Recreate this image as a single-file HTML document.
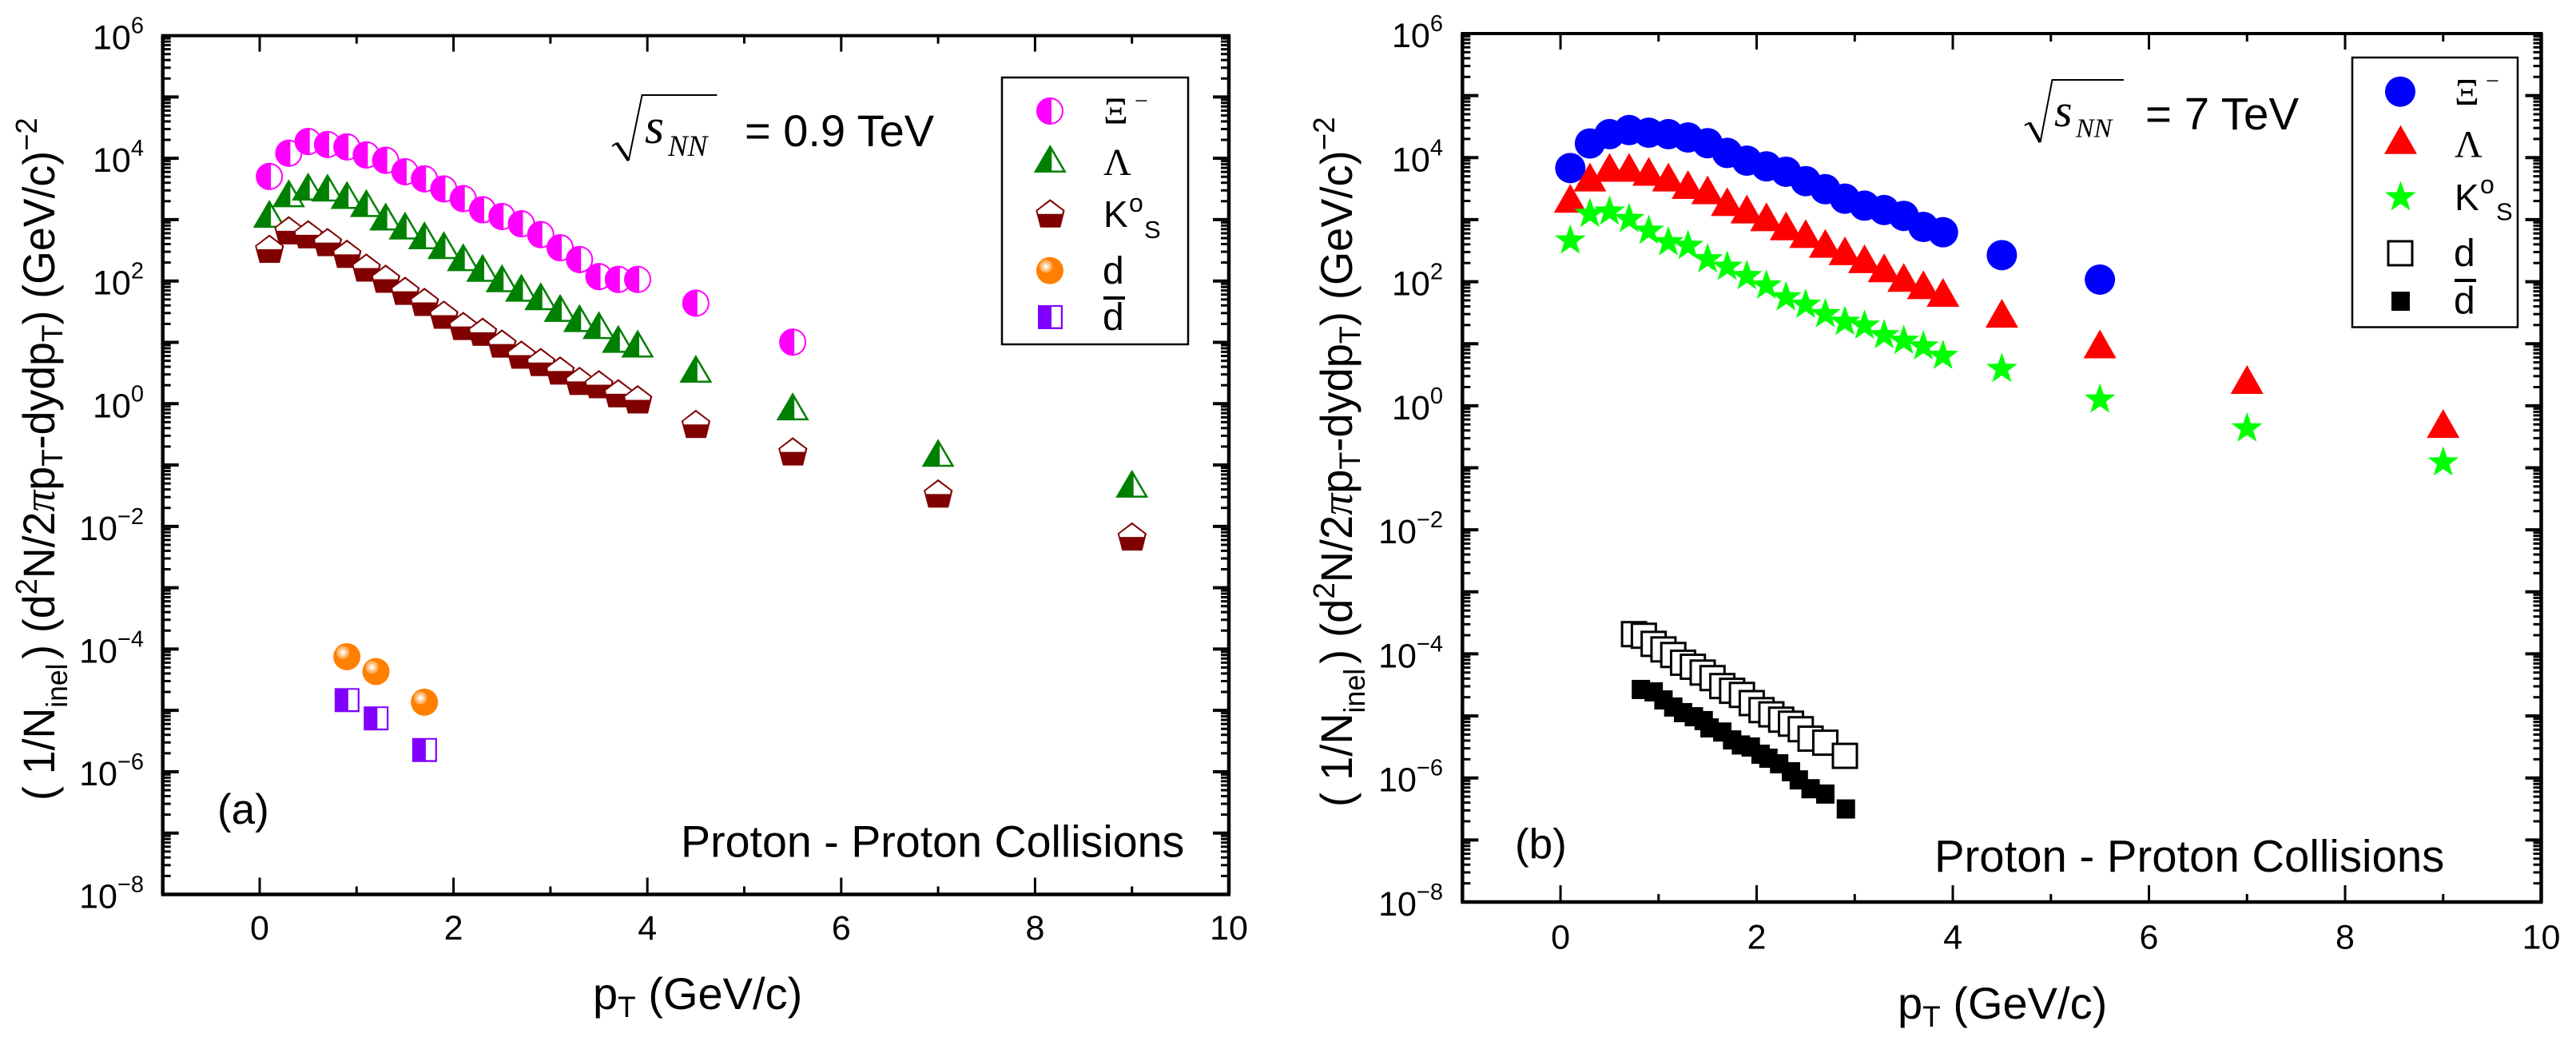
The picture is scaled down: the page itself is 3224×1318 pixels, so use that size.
<!DOCTYPE html>
<html>
<head>
<meta charset="utf-8">
<title>Transverse momentum spectra in proton-proton collisions</title>
<style>
html,body{margin:0;padding:0;background:#fff;width:3224px;height:1318px;overflow:hidden}
svg{display:block}
text{font-family:"Liberation Sans",sans-serif;fill:#000}
.serif{font-family:"Liberation Serif",serif}
.ital{font-family:"Liberation Serif",serif;font-style:italic}
</style>
</head>
<body>
<svg id="figure" xmlns="http://www.w3.org/2000/svg" width="3224" height="1318" viewBox="0 0 3224 1318">
  <rect width="3224" height="1318" fill="#fff"/>
  <g id="panel-a">
    <g id="a-marks"></g>
    <g id="a-axes"></g>
    <text transform="translate(68,1002) rotate(-90) scale(0.958,1)" font-size="56">( 1/N<tspan dy="16" font-size="37">inel</tspan><tspan dy="-16" dx="6">) (d</tspan><tspan dy="-22" font-size="38">2</tspan><tspan dy="22">N/2</tspan><tspan class="ital">π</tspan>p<tspan dy="10" font-size="37">T</tspan><tspan dy="-10">-dydp</tspan><tspan dy="10" font-size="37">T</tspan><tspan dy="-10">) (GeV/c)</tspan><tspan dy="-22" font-size="38">−2</tspan></text>
    <text x="742" y="1263" font-size="56">p<tspan dy="10" font-size="37">T</tspan><tspan dy="-10"> (GeV/c)</tspan></text>
    <text x="272" y="1031" font-size="53">(a)</text>
    <text x="852" y="1072.5" font-size="55.6">Proton - Proton Collisions</text>
    <g>
      <path d="M766,183 L772,179" fill="none" stroke="#000" stroke-width="2"/>
      <path d="M772,179 L786.7,201" fill="none" stroke="#000" stroke-width="4"/>
      <path d="M786.7,201 L803.6,119 L897.4,119" fill="none" stroke="#000" stroke-width="2"/>
      <text x="807" y="179" font-size="62" class="ital">s</text>
      <text x="836" y="195" font-size="37" class="ital">NN</text>
      <text x="932" y="183" font-size="56">= 0.9 TeV</text>
    </g>
    <g>
      <rect x="1254" y="97" width="233" height="334" fill="#fff" stroke="#000" stroke-width="2.5"/>
      <g id="a-legend-marks"></g>
      <text x="1381" y="155" font-size="48" class="serif">Ξ</text>
      <text x="1420" y="136" font-size="30" class="serif">−</text>
      <text x="1381" y="219" font-size="48" class="serif">Λ</text>
      <text x="1381" y="284" font-size="46">K</text>
      <text x="1413" y="265" font-size="32">o</text>
      <text x="1432" y="298" font-size="31">S</text>
      <text x="1380" y="355" font-size="48">d</text>
      <text x="1380" y="413" font-size="48">d</text>
      <rect x="1381" y="371" width="27" height="4" fill="#000"/>
    </g>
  </g>
  <g id="panel-b">
    <g id="b-marks"></g>
    <g id="b-axes"></g>
    <text transform="translate(1692,1010) rotate(-90) scale(0.968,1)" font-size="56">( 1/N<tspan dy="16" font-size="37">inel</tspan><tspan dy="-16" dx="6">) (d</tspan><tspan dy="-22" font-size="38">2</tspan><tspan dy="22">N/2</tspan><tspan class="ital">π</tspan>p<tspan dy="10" font-size="37">T</tspan><tspan dy="-10">-dydp</tspan><tspan dy="10" font-size="37">T</tspan><tspan dy="-10">) (GeV/c)</tspan><tspan dy="-22" font-size="38">−2</tspan></text>
    <text x="2375" y="1274.8" font-size="56">p<tspan dy="10" font-size="37">T</tspan><tspan dy="-10"> (GeV/c)</tspan></text>
    <text x="1896" y="1074.6" font-size="53">(b)</text>
    <text x="2421" y="1091" font-size="56.3">Proton - Proton Collisions</text>
    <g>
      <path d="M2534,157 L2540,153.6" fill="none" stroke="#000" stroke-width="2"/>
      <path d="M2540,153.6 L2553.5,178" fill="none" stroke="#000" stroke-width="4"/>
      <path d="M2553.5,178 L2568.5,100 L2658,100" fill="none" stroke="#000" stroke-width="2"/>
      <text x="2571" y="158" font-size="58" class="ital">s</text>
      <text x="2598" y="171.7" font-size="34" class="ital">NN</text>
      <text x="2685" y="162" font-size="56.5">= 7 TeV</text>
    </g>
    <g>
      <rect x="2944" y="72" width="207" height="337.5" fill="#fff" stroke="#000" stroke-width="2.5"/>
      <g id="b-legend-marks"></g>
      <text x="3072" y="131.7" font-size="48" class="serif">Ξ</text>
      <text x="3111" y="111" font-size="30" class="serif">−</text>
      <text x="3072" y="196.7" font-size="48" class="serif">Λ</text>
      <text x="3072" y="263" font-size="46">K</text>
      <text x="3104" y="242" font-size="32">o</text>
      <text x="3124" y="275.7" font-size="31">S</text>
      <text x="3071" y="333" font-size="48">d</text>
      <text x="3071" y="392.7" font-size="48">d</text>
      <rect x="3072" y="349" width="27" height="4" fill="#000"/>
    </g>
  </g>
</svg>
<script>
// ---- shared pT bins ----
const ptBins = [0.1,0.3,0.5,0.7,0.9,1.1,1.3,1.5,1.7,1.9,2.1,2.3,2.5,2.7,2.9,3.1,3.3,3.5,3.7,3.9,4.5,5.5,7,9];
// ---- panel (a) values, sqrt(s)=0.9 TeV ----
const xiA = [5058,12100,18800,16800,15350,11350,9270,6040,4630,3170,2200,1450,1127,855,570,348,224,118,106,106,43.5,10.07];
const lambdaA = [1247,2692,3467,3336,2529,1866,1127,802,556,385,245,164,111,77.6,56.6,36.5,24.9,19.1,11.4,9.57,3.72,0.904,0.158,0.0497];
const kaonA = [336,672,578,432,278,166,109,69.3,45.7,28.3,18.5,14.9,9.57,6.31,4.78,3.48,2.36,2.08,1.48,1.18,0.469,0.167,0.0344,0.00685];
const deuteronPtA = [0.9,1.2,1.7];
const deuteronA = [7.5e-5,4.3e-5,1.36e-5];
const antiDeuteronA = [1.47e-5,7.4e-6,2.26e-6];
// ---- panel (b) values, sqrt(s)=7 TeV ----
const xiB = [6790,16900,23900,27800,25200,23900,21100,17100,11900,8930,7230,5920,4180,3100,2180,1680,1430,1150,764,627,268,108];
const lambdaB = [2208,4853,6966,6966,5998,4853,3681,3020,1950,1482,1112,794,596,415,315,234,167,117,89.4,67.1,31,9.93,2.65,0.516];
const kaonB = [488,1309,1426,1084,701,458,400,243,184,130,91.6,59.2,45,31.7,23.8,20.7,14.5,11.8,9.57,6.75,4.15,1.33,0.456,0.129];
const deuteronPtB = [0.75,0.85,0.95,1.05,1.15,1.25,1.35,1.45,1.55,1.65,1.75,1.85,1.95,2.05,2.15,2.25,2.35,2.45,2.55,2.7,2.9];
const deuteronB = [2.08e-4,1.96e-4,1.45e-4,1.18e-4,9.6e-5,7.2e-5,6.2e-5,5.0e-5,4.07e-5,3.03e-5,2.54e-5,2.18e-5,1.61e-5,1.24e-5,1.06e-5,8.7e-6,7.5e-6,6.1e-6,4.3e-6,3.7e-6,2.27e-6];
const antiDeuteronPtB = [0.82,0.95,1.05,1.15,1.25,1.36,1.46,1.52,1.65,1.75,1.84,1.94,2.04,2.12,2.23,2.35,2.43,2.55,2.7,2.91];
const antiDeuteronB = [2.67e-5,2.44e-5,1.81e-5,1.39e-5,1.13e-5,9.7e-6,8.4e-6,6.4e-6,5.5e-6,4.1e-6,3.4e-6,3.15e-6,2.41e-6,2.08e-6,1.69e-6,1.26e-6,9.3e-7,6.7e-7,5.5e-7,3.16e-7];
// ---- tick labels ----
const xMajorTicks = [0,2,4,6,8,10];
const xMinorTicks = [1,3,5,7,9];
const xTickLabels = ['0','2','4','6','8','10'];
const yDecades = [6,5,4,3,2,1,0,-1,-2,-3,-4,-5,-6,-7,-8];
const yLabelExponents = ['6','4','2','0','−2','−4','−6','−8'];

const NS = 'http://www.w3.org/2000/svg';
const starPts = (function(){
  const p = [];
  for (let i = 0; i < 10; i++) {
    const r = i % 2 ? 8.2 : 20.4;
    const a = -Math.PI / 2 + i * Math.PI / 5;
    p.push((r * Math.cos(a)).toFixed(2) + ',' + (r * Math.sin(a) + 1.95).toFixed(2));
  }
  return p.join(' ');
})();
const SHAPES = {
  halfCircle: '<circle r="16" fill="#fff" stroke="#ff00ff" stroke-width="2"/><path d="M2,-16.9 A17,17 0 1 0 2,16.9 Z" fill="#ff00ff"/>',
  halfTriangle: '<polygon points="0,-17.5 20.5,17.5 -20.5,17.5" fill="#008000"/><polygon points="2,-9.1 16.1,15 2,15" fill="#fff"/>',
  halfPentagon: '<polygon points="0,-17.7 18.3,-3.7 13,17.7 -12.3,17.7 -18,-3.7" fill="#800000"/><polygon points="0,-15 15.8,-3.2 15,0.7 -15,0.7 -15.8,-3.2" fill="#fff"/>',
  ball: '<circle r="17" fill="#ff8000"/><circle cx="-5" cy="-5.3" r="8" fill="#ffb060"/><circle cx="-5" cy="-5.3" r="5" fill="#ffd8b0"/><circle cx="-5" cy="-5.3" r="2" fill="#fff"/>',
  halfSquare: '<rect x="-15.3" y="-15" width="31" height="30" fill="#8000ff"/><rect x="1.7" y="-13" width="11.8" height="25.6" fill="#fff"/>',
  disc: '<circle r="19" fill="#0000ff"/>',
  triangle: '<polygon points="0,-18 20.5,18 -20.5,18" fill="#ff0000"/>',
  star: '<polygon points="' + starPts + '" fill="#00ff00"/>',
  openSquare: '<rect x="-15" y="-15" width="30" height="30" fill="#fff" stroke="#000" stroke-width="3"/>',
  solidSquare: '<rect x="-11.5" y="-12" width="23" height="24" fill="#000"/>'
};

function marker(parent, kind, cx, cy, name) {
  const g = document.createElementNS(NS, 'g');
  g.setAttribute('transform', 'translate(' + cx + ',' + cy + ')');
  
  
  g.innerHTML = SHAPES[kind];
  parent.appendChild(g);
}

function line(parent, x1, y1, x2, y2, w, name) {
  const l = document.createElementNS(NS, 'line');
  l.setAttribute('x1', x1);
  l.setAttribute('y1', y1);
  l.setAttribute('x2', x2);
  l.setAttribute('y2', y2);
  l.setAttribute('stroke', '#000');
  l.setAttribute('stroke-width', w);
  
  
  parent.appendChild(l);
}

function drawAxes(id, box, scaleX, scaleY, exX, labelBaseline) {
  const g = document.getElementById(id);
  const prefix = id.charAt(0);
  const L = box.left, R = box.right, T = box.top, B = box.bottom;
  line(g, L - 2, T, R + 2, T, 4, prefix + '-top-spine');
  line(g, L - 2, B, R + 2, B, 4.5, prefix + '-x-axis-line');
  line(g, L, T, L, B, 4.5, prefix + '-y-axis-line');
  line(g, R, T, R, B, 4.5, prefix + '-right-spine');
  xMajorTicks.forEach(function (v, i) {
    const x = scaleX(v);
    if (v < 10) {
      line(g, x, B, x, B - 21, 3, prefix + '-x-major-tick');
      line(g, x, T, x, T + 20, 3, prefix + '-x-major-tick-top');
    }
    const t = document.createElementNS(NS, 'text');
    t.setAttribute('x', x);
    t.setAttribute('y', labelBaseline);
    t.setAttribute('text-anchor', 'middle');
    t.setAttribute('font-size', '43');
    
    
    t.textContent = xTickLabels[i];
    g.appendChild(t);
  });
  xMinorTicks.forEach(function (v) {
    const x = scaleX(v);
    line(g, x, B, x, B - 10, 3, prefix + '-x-minor-tick');
    line(g, x, T, x, T + 10, 3, prefix + '-x-minor-tick-top');
  });
  yDecades.forEach(function (d) {
    const y = scaleY(Math.pow(10, d));
    if (d < 6 && d > -8) {
      line(g, L, y, L + 20, y, 4, prefix + '-y-major-tick');
      line(g, R, y, R - 20, y, 4, prefix + '-y-major-tick-right');
    }
    if (d > -8) {
      for (let k = 2; k < 10; k++) {
        const ym = scaleY(k * Math.pow(10, d - 1));
        line(g, L, ym, L + 10, ym, 3, prefix + '-y-minor-tick');
        line(g, R, ym, R - 10, ym, 3, prefix + '-y-minor-tick-right');
      }
    }
  });
  yLabelExponents.forEach(function (e) {
    const d = parseInt(e.replace('−', '-'), 10);
    const t = document.createElementNS(NS, 'text');
    t.setAttribute('x', exX);
    t.setAttribute('y', scaleY(Math.pow(10, d)) + 17);
    t.setAttribute('text-anchor', 'end');
    t.setAttribute('font-size', '43');
    
    
    t.textContent = '10';
    const s = document.createElementNS(NS, 'tspan');
    s.setAttribute('dy', '-20');
    s.setAttribute('font-size', '29');
    s.textContent = e;
    t.appendChild(s);
    g.appendChild(t);
  });
}

function makeScales(box) {
  return {
    x: function (v) { return box.left + (v + 1) * (box.right - box.left) / 11; },
    y: function (v) { return box.top + (6 - Math.log10(v)) * (box.bottom - box.top) / 14; }
  };
}

function series(parent, kind, xs, ys, sc, name) {
  ys.forEach(function (v, i) {
    marker(parent, kind, sc.x(xs[i]), sc.y(v), name);
  });
}

// panel (a)
const boxA = { left: 203.7, right: 1538, top: 44.6, bottom: 1119.5 };
const scA = makeScales(boxA);
const marksA = document.getElementById('a-marks');
series(marksA, 'halfCircle', ptBins, xiA, scA, 'a-xi-point');
series(marksA, 'halfTriangle', ptBins, lambdaA, scA, 'a-lambda-point');
series(marksA, 'halfPentagon', ptBins, kaonA, scA, 'a-kaon-point');
series(marksA, 'ball', deuteronPtA, deuteronA, scA, 'a-deuteron-point');
series(marksA, 'halfSquare', deuteronPtA, antiDeuteronA, scA, 'a-antideuteron-point');
drawAxes('a-axes', boxA, scA.x, scA.y, 180, 1176);
const legA = document.getElementById('a-legend-marks');
marker(legA, 'halfCircle', 1314, 139, 'a-legend-xi-marker');
marker(legA, 'halfTriangle', 1314.3, 198.5, 'a-legend-lambda-marker');
marker(legA, 'halfPentagon', 1314.3, 267, 'a-legend-kaon-marker');
marker(legA, 'ball', 1314, 338.7, 'a-legend-deuteron-marker');
marker(legA, 'halfSquare', 1314.3, 397, 'a-legend-antideuteron-marker');

// panel (b)
const boxB = { left: 1830.3, right: 3180.5, top: 42, bottom: 1129 };
const scB = makeScales(boxB);
const marksB = document.getElementById('b-marks');
series(marksB, 'disc', ptBins, xiB, scB, 'b-xi-point');
series(marksB, 'triangle', ptBins, lambdaB, scB, 'b-lambda-point');
series(marksB, 'star', ptBins, kaonB, scB, 'b-kaon-point');
series(marksB, 'openSquare', deuteronPtB, deuteronB, scB, 'b-deuteron-point');
series(marksB, 'solidSquare', antiDeuteronPtB, antiDeuteronB, scB, 'b-antideuteron-point');
drawAxes('b-axes', boxB, scB.x, scB.y, 1806, 1187.5);
const legB = document.getElementById('b-legend-marks');
marker(legB, 'disc', 3004, 114.7, 'b-legend-xi-marker');
marker(legB, 'triangle', 3004.5, 174.7, 'b-legend-lambda-marker');
marker(legB, 'star', 3004.5, 245, 'b-legend-kaon-marker');
marker(legB, 'openSquare', 3004, 317, 'b-legend-deuteron-marker');
marker(legB, 'solidSquare', 3004.5, 377, 'b-legend-antideuteron-marker');
</script>
</body>
</html>
